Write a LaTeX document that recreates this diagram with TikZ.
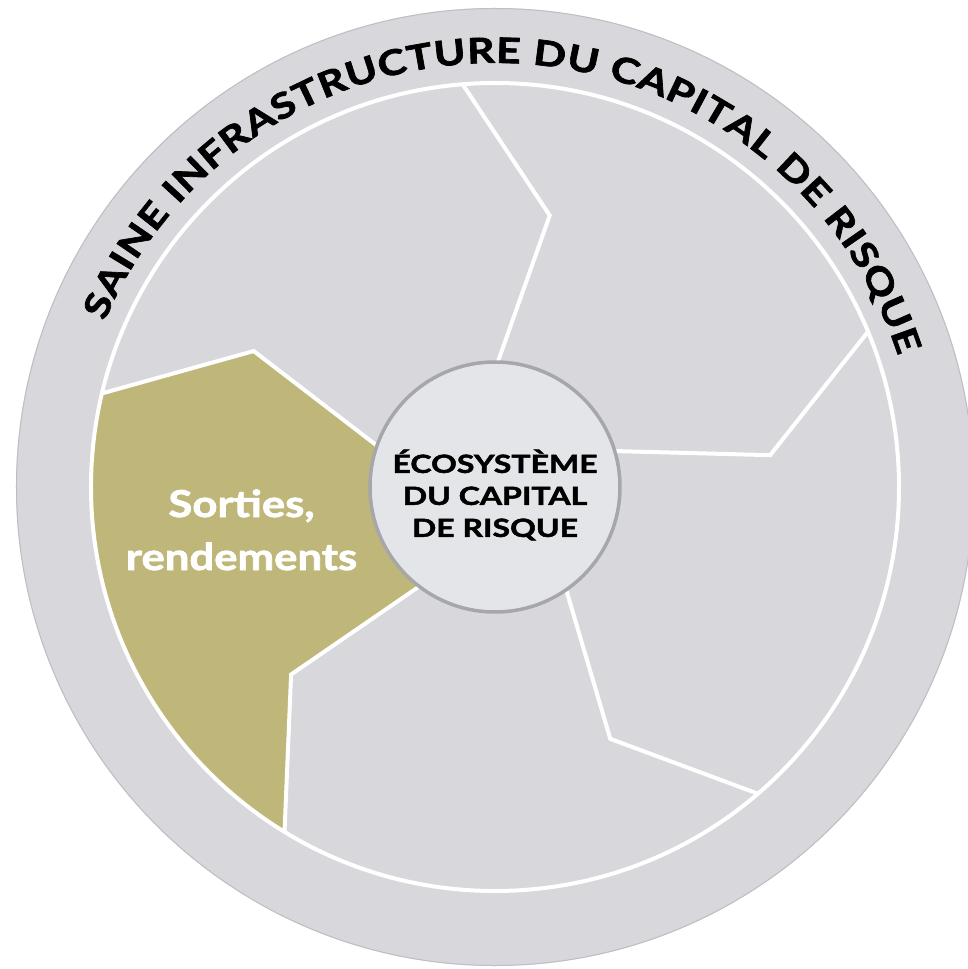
\documentclass[tikz,border=0pt]{standalone}
\usepackage{fontspec}
\setmainfont{Lato}
\newfontfamily\widefont{Lato}[FakeStretch=1.18, FakeBold=2]
\newfontfamily\hubfont{Lato}[FakeStretch=1.28, FakeBold=2]
\newfontfamily\ringfont{Lato}[FakeStretch=1.22, FakeBold=2]
\usetikzlibrary{decorations.text}
\definecolor{discgrey}{RGB}{216,216,220}
\definecolor{rimgrey}{RGB}{190,191,195}
\definecolor{olivefill}{RGB}{191,183,122}
\definecolor{hubfill}{RGB}{227,229,232}
\definecolor{hubedge}{RGB}{165,167,171}
\begin{document}
\begin{tikzpicture}[x=1pt,y=1pt,
  divider/.style={draw=white, line width=4pt, line join=miter},
  hubdisc/.style={circle, fill=hubfill, draw=hubedge, line width=3.5pt, minimum size=250pt, inner sep=0pt},
  hubtext/.style={align=center, font=\hubfont\bfseries\fontsize{25}{32}\selectfont, text=black},
  sectortext/.style={anchor=base, font=\widefont\bfseries\fontsize{37}{44}\selectfont, text=white}]
\useasboundingbox (-495,-482) rectangle (472,487);
\coordinate (c) at (0,0);
\fill[discgrey] (c) circle (479);
\draw[rimgrey, line width=1pt] (c) circle (478.5);
% olive sector
\fill[olivefill] (166.6:404) -- (150.6:277) -- (161.5:126)
   arc[start angle=161.5, end angle=233.5, radius=126]
   -- (222.6:277) -- (238.6:404)
   arc[start angle=238.6, end angle=166.6, radius=404] -- cycle;
\draw[white, line width=4pt] (c) circle (404);
\foreach \k in {0,...,4}{
  \pgfmathsetmacro\a{89.5-72*\k}
  \coordinate (o\k) at ({\a+5.1}:404);
  \coordinate (b\k) at ({\a-10.9}:277);
  \coordinate (i\k) at (\a:120);
  \draw[divider] (o\k) -- (b\k) -- (i\k);
}
\node[hubdisc] (hub) at (c) {};
\node[hubtext] (hubtxt) at (0,-8) {ÉCOSYSTÈME\\DU CAPITAL\\DE RISQUE};
\node[sectortext] (s1) at (-253.5,-30) {Sorties,};
\node[sectortext] (s2) at (-253.5,-83) {rendements};
\path[decorate, decoration={text along path,
   text={|\ringfont\bfseries\fontsize{35}{35}\selectfont|SAINE INFRASTRUCTURE DU CAPITAL DE RISQUE},
   text align={fit to path}}]
   (157:424) arc[start angle=157, end angle=18, radius=424];
\end{tikzpicture}
\end{document}
